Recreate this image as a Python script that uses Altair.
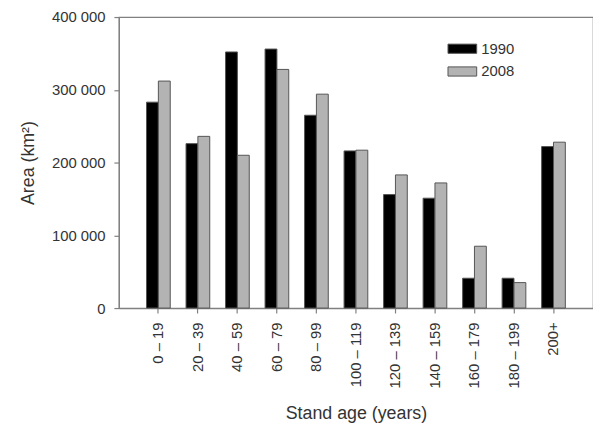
import altair as alt
import pandas as pd

categories = ["0 – 19", "20 – 39", "40 – 59", "60 – 79", "80 – 99", "100 – 119",
              "120 – 139", "140 – 159", "160 – 179", "180 – 199", "200+"]
area_1990 = [283000, 226000, 352000, 356000, 265000, 216000, 156000, 151000, 41000, 41000, 222000]
area_2008 = [312000, 236000, 210000, 328000, 294000, 217000, 183000, 172000, 85000, 35000, 228000]
years = ["1990", "2008"]

rows = []
for c, a, b in zip(categories, area_1990, area_2008):
    rows.append({"age": c, "year": years[0], "area": a})
    rows.append({"age": c, "year": years[1], "area": b})
df = pd.DataFrame(rows)

FONT = "Liberation Sans"
TXT = "#333333"
LINE = "#808080"

chart = alt.Chart(df).mark_bar(stroke="#555555", strokeWidth=1).encode(
    x=alt.X("age:N", sort=categories,
            scale=alt.Scale(paddingInner=0.4, paddingOuter=0.7),
            axis=alt.Axis(title="Stand age (years)", labelAngle=-90, labelFontSize=15,
                          titleFontSize=18, titleFontWeight="normal", labelPadding=9,
                          tickSize=5, titlePadding=17, domainColor=LINE, tickColor=LINE,
                          labelColor=TXT, titleColor=TXT, labelFont=FONT, titleFont=FONT)),
    xOffset=alt.XOffset("year:N", scale=alt.Scale(paddingInner=0, paddingOuter=0)),
    y=alt.Y("area:Q", scale=alt.Scale(domain=[0, 400000], nice=False),
            axis=alt.Axis(title="Area (km²)", values=[0, 100000, 200000, 300000, 400000],
                          labelExpr="datum.value == 0 ? '0' : format(datum.value / 1000, 'd') + ' 000'",
                          grid=False, labelFontSize=15, titleFontSize=18, titleFontWeight="normal",
                          labelPadding=9, tickSize=5, titlePadding=14, domainColor=LINE,
                          tickColor=LINE, labelColor=TXT, titleColor=TXT, labelFont=FONT,
                          titleFont=FONT)),
    color=alt.Color("year:N", scale=alt.Scale(domain=years, range=["#000000", "#b3b3b3"]),
                    legend=alt.Legend(title=None, orient="none", legendX=332, legendY=17,
                                      symbolType="M-1,-0.32H1V0.32H-1Z", symbolSize=841,
                                      symbolStrokeColor="#555555", symbolStrokeWidth=1,
                                      labelFontSize=15, labelColor=TXT, labelFont=FONT,
                                      labelOffset=4, rowPadding=-2)),
).properties(
    width=479, height=294,
    padding={"left": 11, "top": 0, "right": 0, "bottom": 0},
).configure_view(
    stroke=LINE, strokeWidth=1.2
).configure_axis(
    domainWidth=1.2, tickWidth=1.2
)

chart.save("out.html", embed_options={"renderer": "svg", "actions": False})
